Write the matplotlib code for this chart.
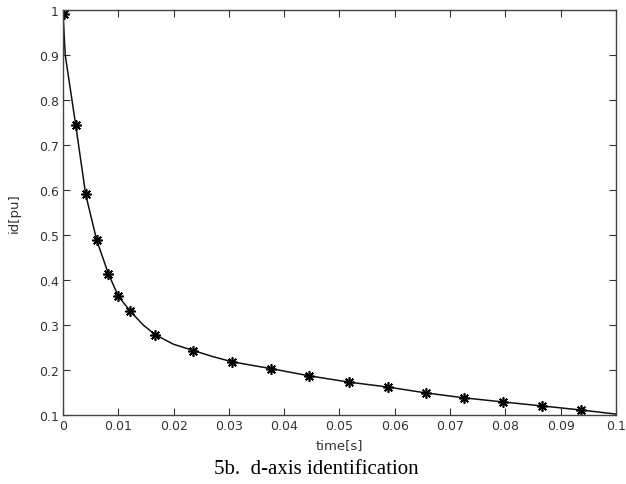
import numpy as np
import matplotlib
matplotlib.use("Agg")
from matplotlib import pyplot as plt
from matplotlib.ticker import FormatStrFormatter

# simulated d-axis current response (solid line)
t_sim = [0, 0.0004, 0.0023, 0.0041, 0.0061, 0.0082, 0.0100, 0.0122, 0.0145, 0.0167,
         0.0200, 0.0236, 0.0270, 0.0306, 0.0376, 0.0445, 0.0517, 0.0588, 0.0656,
         0.0726, 0.0795, 0.0867, 0.0937, 0.1]
id_sim = [0.995, 0.900, 0.744, 0.590, 0.488, 0.414, 0.364, 0.330, 0.300, 0.278,
          0.257, 0.243, 0.230, 0.218, 0.203, 0.187, 0.173, 0.162, 0.149,
          0.138, 0.129, 0.120, 0.111, 0.102]

# measured points (asterisks)
t_meas = [0.0002, 0.0023, 0.0041, 0.0061, 0.0082, 0.0100, 0.0122, 0.0167, 0.0236,
          0.0306, 0.0376, 0.0445, 0.0517, 0.0588, 0.0656, 0.0726, 0.0795, 0.0867, 0.0937]
id_meas = [0.990, 0.744, 0.590, 0.488, 0.414, 0.364, 0.330, 0.278, 0.243,
           0.218, 0.203, 0.187, 0.173, 0.162, 0.149, 0.138, 0.129, 0.120, 0.111]

xticks = np.round(np.arange(0, 0.1001, 0.01), 2)
yticks = np.round(np.arange(0.1, 1.0001, 0.1), 1)

fig = plt.figure(figsize=(6.26, 4.85), dpi=100)
ax = fig.add_axes([0.1006, 0.1423, 0.8834, 0.8357])

ax.plot(t_sim, id_sim, color="#111111", lw=1.1)
ax.plot(t_meas, id_meas, ls="none", marker=(8, 2, 0), ms=7.5, mec="#000000", mew=1.2)

ax.set_xlim(0, 0.1)
ax.set_ylim(0.1, 1)
ax.set_xticks(xticks)
ax.set_yticks(yticks)
ax.xaxis.set_major_formatter(FormatStrFormatter("%g"))
ax.yaxis.set_major_formatter(FormatStrFormatter("%g"))
ax.tick_params(direction="in", length=5, width=0.8, color="#333333",
               top=True, right=True, labelsize=9, labelcolor="#333333", pad=3)
for s in ax.spines.values():
    s.set_color("#444444")
    s.set_linewidth(1.0)

ax.set_xlabel("time[s]", fontsize=9.5, color="#333333", labelpad=4)
ax.set_ylabel("id[pu]", fontsize=9.5, color="#333333", labelpad=13)

fig.text(0.5056, 0.031, "5b.  d-axis identification", ha="center", va="center",
         family="Liberation Serif", fontsize=15)

fig.savefig("out.png", dpi=100)
